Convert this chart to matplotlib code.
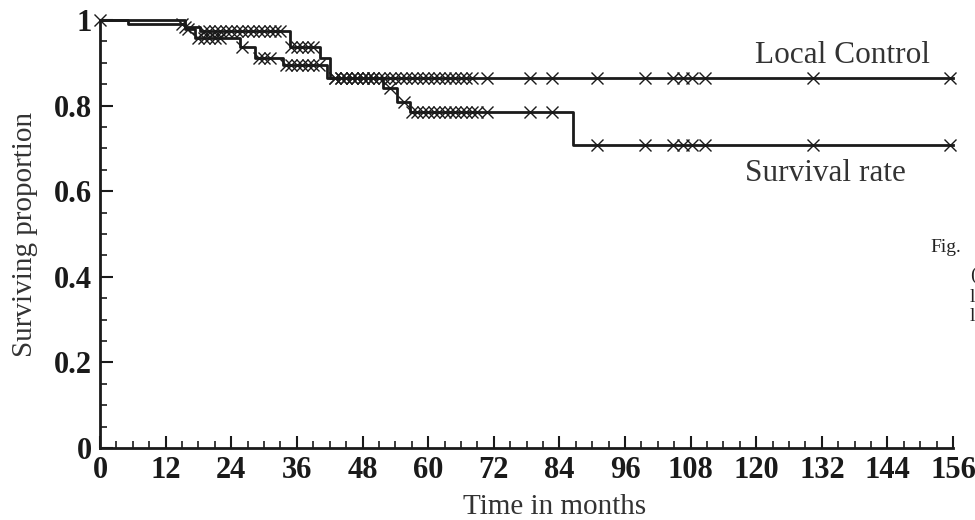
"""Kaplan-Meier style curves: local control and survival rate."""

import matplotlib

matplotlib.use("Agg")
from matplotlib import pyplot as plt
from matplotlib.ticker import MultipleLocator, FixedFormatter, FixedLocator

# step curves (time in months, proportion after the step)
lc_times = [0, 15.5, 18.3, 34.7, 40.2, 42]
lc_values = [1.0, 0.984, 0.974, 0.937, 0.91, 0.865]

surv_times = [0, 5.1, 15.5, 17.4, 25.6, 28.3, 33.5, 41.5, 51.7, 54.3, 56.7, 86.5]
surv_values = [1.0, 0.99, 0.98, 0.958, 0.937, 0.911, 0.895, 0.865, 0.841, 0.808,
               0.785, 0.708]

# censored observations
lc_censored = [0, 15.5, 19, 20, 21, 22, 23, 24, 25, 26, 27, 28, 29, 30, 31, 32, 33,
               35, 36, 37, 38, 39, 43, 44, 45, 46, 47, 48, 49, 50, 51, 52, 53, 54,
               55, 56, 57, 58, 59, 60, 61, 62, 63, 64, 65, 66, 67, 68, 70.7, 78.6,
               82.6, 90.9, 99.6, 104.8, 106.6, 108.2, 110.6, 130.3, 155.4]
surv_censored = [15, 16, 18, 19, 20, 21, 22, 26, 29, 30, 31, 34, 35, 36, 37, 38, 39,
                 40, 43, 44, 45, 46, 47, 48, 49, 50, 53, 55.5, 57, 58, 59, 60, 61,
                 62, 63, 64, 65, 66, 67, 68, 69, 70.7, 78.6, 82.6, 90.9, 99.6, 104.8,
                 106.6, 108.2, 110.6, 130.3, 155.4]

x_ticks = [0, 12, 24, 36, 48, 60, 72, 84, 96, 108, 120, 132, 144, 156]
y_ticks = [0, 0.2, 0.4, 0.6, 0.8, 1]
y_tick_labels = ["0", "0.2", "0.4", "0.6", "0.8", "1"]

INK = "#1a1a1a"
GREY = "#333333"
plt.rcParams["font.family"] = ["Liberation Serif", "DejaVu Serif"]


def value_at(times, values, t):
    v = values[0]
    for ti, vi in zip(times, values):
        if ti <= t:
            v = vi
    return v


fig = plt.figure(figsize=(9.75, 5.2), dpi=100)
ax = fig.add_axes([0.1026, 0.1385, 0.8749, 0.8231])

for times, values, censored in [
    (lc_times, lc_values, lc_censored),
    (surv_times, surv_values, surv_censored),
]:
    xs = list(times) + [156]
    ys = list(values) + [values[-1]]
    ax.step(xs, ys, where="post", color=INK, lw=2, clip_on=False)
    ax.plot(censored, [value_at(times, values, t) for t in censored],
            ls="none", marker="x", ms=8.5, mew=1.0, color=INK, clip_on=False)

ax.set_xlim(0, 156)
ax.set_ylim(0, 1)
for side in ("top", "right"):
    ax.spines[side].set_visible(False)
for side in ("left", "bottom"):
    ax.spines[side].set_linewidth(2)
    ax.spines[side].set_color(INK)

ax.xaxis.set_major_locator(FixedLocator(x_ticks))
ax.xaxis.set_minor_locator(MultipleLocator(3))
ax.yaxis.set_major_locator(FixedLocator(y_ticks))
ax.yaxis.set_major_formatter(FixedFormatter(y_tick_labels))
ax.yaxis.set_minor_locator(MultipleLocator(0.05))
ax.tick_params(which="major", direction="in", length=9, width=1.5, colors=INK,
               labelsize=22, pad=6)
ax.tick_params(which="minor", direction="in", length=5, width=1.2, colors=INK)
for lab in ax.get_xticklabels() + ax.get_yticklabels():
    lab.set_fontweight("bold")

ax.set_xlabel("Time in months", fontsize=21, color=GREY, va="baseline")
ax.xaxis.set_label_coords(0.533, -0.155)
ax.set_ylabel("Surviving proportion", fontsize=21, color=GREY)
ax.yaxis.set_label_coords(-0.073, 0.5)

ax.text(135.8, 0.9, "Local Control", fontsize=22.5, color=GREY, ha="center",
        va="baseline")
ax.text(132.7, 0.624, "Survival rate", fontsize=22.5, color=GREY, ha="center",
        va="baseline")

fig.text(0.954, 0.515, "Fig.", fontsize=14, color="#222222", va="baseline")
fig.text(0.995, 0.462, "(", fontsize=14, color="#222222", va="baseline")
fig.text(0.995, 0.420, "l", fontsize=14, color="#222222", va="baseline")
fig.text(0.995, 0.382, "l", fontsize=14, color="#222222", va="baseline")

fig.savefig("out.png", dpi=100)
plt.close(fig)
